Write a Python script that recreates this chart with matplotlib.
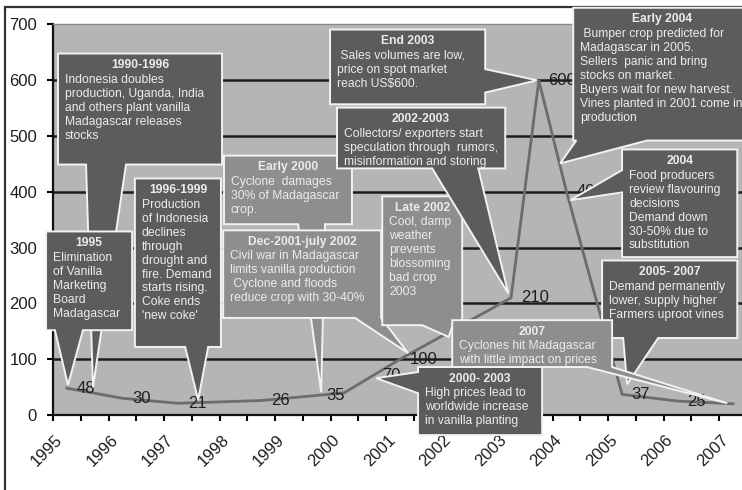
import matplotlib
matplotlib.use("Agg")
import matplotlib.pyplot as plt
from matplotlib.patches import Polygon, Rectangle
from matplotlib.transforms import ScaledTranslation

plt.rcParams['font.family'] = ['Liberation Sans', 'DejaVu Sans']

# half-year categories 1995 .. 2007, only every second one gets a label
YEARS = [str(y) for y in range(1995, 2008)]
N_CAT = 25

# vanilla price (US$/kg)
POINT_IDX = [0, 2, 4, 7, 9, 10, 11, 12, 16, 17, 18, 20, 22, 24]
PRICE = [48, 30, 21, 26, 35, 40, 70, 100, 210, 600, 400, 37, 25, 20]
PRICE_LABEL = ["48", "30", "21", "26", "35", "", "70", "100", "210", "600", "400", "37", "25", "20"]

Y_TICKS = [0, 100, 200, 300, 400, 500, 600, 700]

NOTE_TEXT = {
    "1990-1996": "Indonesia doubles\nproduction, Uganda, India\nand others plant vanilla\nMadagascar releases\nstocks",
    "1995": "Elimination\nof Vanilla\nMarketing\nBoard\nMadagascar",
    "1996-1999": "Production\nof Indonesia\ndeclines\nthrough\ndrought and\nfire. Demand\nstarts rising.\nCoke ends\n'new coke'",
    "Early 2000": "Cyclone  damages\n30% of Madagascar\ncrop.",
    "Dec-2001-july 2002": "Civil war in Madagascar\nlimits vanilla production\n Cyclone and floods\nreduce crop with 30-40%",
    "Late 2002": "Cool, damp\nweather\nprevents\nblossoming\nbad crop\n2003",
    "End 2003": " Sales volumes are low,\nprice on spot market\nreach US\\$600.",
    "2002-2003": "Collectors/ exporters start\nspeculation through  rumors,\nmisinformation and storing",
    "Early 2004": " Bumper crop predicted for\nMadagascar in 2005.\nSellers  panic and bring\nstocks on market.\nBuyers wait for new harvest.\nVines planted in 2001 come in\nproduction",
    "2004": "Food producers\nreview flavouring\ndecisions\nDemand down\n30-50% due to\nsubstitution",
    "2005- 2007": "Demand permanently\nlower, supply higher\nFarmers uproot vines",
    "2000- 2003": "High prices lead to\nworldwide increase\nin vanilla planting",
    "2007": "Cyclones hit Madagascar\nwith little impact on prices",
}

BG = "#b5b5b5"
DARK = "#5c5c5c"
MID = "#8e8e8e"
TXT = "#ececec"
LINE = "#6c6c6c"

# title, box x0, x1, y0, y1, pointer side, pointer base a/b, tip, fill
CALLOUTS = [
    ("1990-1996", -0.32, 5.59, 449, 648, "bottom", 0.69, 2.13, (0.94, 50), DARK),
    ("1995", -0.75, 2.35, 152, 329, "bottom", -0.43, 0.58, (0.04, 54), DARK),
    ("1996-1999", 2.45, 5.55, 122, 424, "bottom", 4.26, 5.09, (4.73, 27), DARK),
    ("Early 2000", 5.66, 10.27, 342, 465, "bottom", 8.33, 9.3, (9.16, 41), MID),
    ("Dec-2001-july 2002", 5.63, 11.32, 174, 331, "bottom", 10.38, 11.32, (12.29, 111), MID),
    ("Late 2002", 11.36, 14.24, 161, 392, "bottom", 12.8, 13.9, (13.75, 140), MID),
    ("End 2003", 9.48, 15.07, 557, 691, "right", 578, 620, (16.94, 600), DARK),
    ("2002-2003", 9.73, 15.79, 442, 551, "bottom", 13.16, 14.82, (15.9, 218), DARK),
    ("Early 2004", 18.24, 24.65, 492, 730, "bottom", 18.35, 20.9, (17.77, 451), DARK),
    ("2004", 20.0, 24.15, 283, 476, "left", 399, 439, (18.13, 385), DARK),
    ("2005- 2007", 19.28, 24.15, 138, 277, "bottom", 20.04, 21.3, (20.18, 55), DARK),
    ("2000- 2003", 12.65, 17.12, -36, 86, "left", 39, 77, (11.14, 66), DARK),
    ("2007", 13.88, 19.64, 86, 170, "bottom", 18.74, 19.64, (23.79, 21), MID),
]


def callout_outline(x0, x1, y0, y1, side, a, b, tip):
    lo, hi = min(a, b), max(a, b)
    if side == "bottom":
        return [(x0, y1), (x1, y1), (x1, y0), (hi, y0), tip, (lo, y0), (x0, y0)]
    if side == "right":
        return [(x0, y1), (x1, y1), (x1, hi), tip, (x1, lo), (x1, y0), (x0, y0)]
    return [(x0, y1), (x1, y1), (x1, y0), (x0, y0), (x0, lo), tip, (x0, hi)]


fig = plt.figure(figsize=(7.42, 4.90), dpi=100, facecolor="white")
ax = fig.add_axes([53 / 742, 1 - 415 / 490, 694 / 742, 390.5 / 490])
ax.set_facecolor(BG)

# outer chart frame
fig.add_artist(Rectangle((5 / 742, -0.1), 1.2, 1.1 - 7 / 490, transform=fig.transFigure,
                         fill=False, lw=1.6, ec="#333333", zorder=-1))

ax.set_xlim(-0.5, N_CAT - 0.5)
ax.set_ylim(0, 700)

for y in Y_TICKS[1:-1]:
    ax.axhline(y, color="#1c1c1c", lw=1.8, zorder=1)

ax.plot(POINT_IDX, PRICE, color=LINE, lw=2.0, zorder=2, solid_joinstyle="miter")
for i, v, s in zip(POINT_IDX, PRICE, PRICE_LABEL):
    if s:
        ax.annotate(s, (i, v), xytext=(7, 0), textcoords="offset points",
                    ha="left", va="center", fontsize=12, color="#1e1e1e", zorder=3,
                    annotation_clip=False)

z = 5
for title, x0, x1, y0, y1, side, a, b, tip, fc in CALLOUTS:
    pts = callout_outline(x0, x1, y0, y1, side, a, b, tip)
    ax.add_patch(Polygon(pts, closed=True, fc=fc, ec="#f2f2f2", lw=1.4,
                         joinstyle="miter", clip_on=False, zorder=z))
    ax.annotate(title, ((x0 + x1) / 2, y1), xytext=(0, -4), textcoords="offset points",
                ha="center", va="top", fontsize=8.7, fontweight="bold", color=TXT,
                zorder=z + 0.5, annotation_clip=False)
    ax.annotate(NOTE_TEXT[title], (x0, y1), xytext=(5, -14.5), textcoords="offset points",
                ha="left", va="top", fontsize=8.7, color=TXT, linespacing=1.22,
                zorder=z + 0.5, annotation_clip=False)
    z += 1

# axes styling
for side in ["left", "bottom"]:
    ax.spines[side].set_color("#111111")
    ax.spines[side].set_linewidth(1.6)
ax.spines["top"].set_color("#8a8a8a")
ax.spines["top"].set_linewidth(1.0)
ax.spines["right"].set_visible(False)

ax.set_yticks(Y_TICKS)
ax.set_yticklabels([str(v) for v in Y_TICKS])
ax.tick_params(axis="y", direction="out", length=4.5, width=1.5, pad=7,
               labelsize=12, labelcolor="#1e1e1e")

ax.set_xticks([k - 0.5 for k in range(N_CAT + 1)])
ax.set_xticklabels([])
ax.set_xticks(list(range(0, N_CAT, 2)), minor=True)
ax.set_xticklabels(YEARS, minor=True)
ax.tick_params(axis="x", which="major", direction="out", length=4.5, width=1.5)
ax.tick_params(axis="x", which="minor", length=0, pad=16, labelsize=12, labelcolor="#1e1e1e")
shift = ScaledTranslation(-5 / 72, 0, fig.dpi_scale_trans)
for lab in ax.get_xticklabels(minor=True):
    lab.set_rotation(45)
    lab.set_ha("right")
    lab.set_va("center")
    lab.set_rotation_mode("anchor")
    lab.set_transform(lab.get_transform() + shift)

fig.savefig("out.png", dpi=100, facecolor="white")
